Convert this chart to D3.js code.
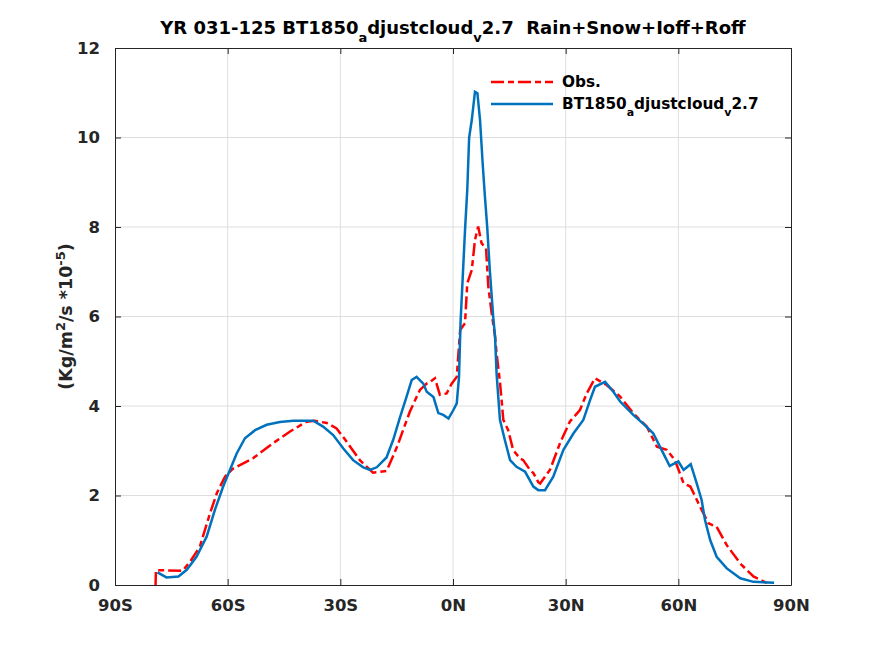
<!DOCTYPE html>
<html>
<head>
<meta charset="utf-8">
<script src="https://cdn.jsdelivr.net/npm/d3@7"></script>
<style>
  body { margin: 0; background: #fff; }
  text { font-family: "DejaVu Sans", sans-serif; font-weight: bold; fill: #262626; }
</style>
</head>
<body>
<div class="chart"></div>
<script>
// zonal mean Rain+Snow+Ioff+Roff
const obsLat = [-79.2,-79.1,-78,-72,-70,-67.4,-64.7,-62.9,-60.7,-58.6,-53.3,-47.9,-43.4,-39,-36.8,-33.6,-31,-28.3,-24.8,-21.3,-19.3,-17.7,-16,-14.7,-13.3,-11.5,-9.7,-8.8,-7,-6.1,-4.8,-3.5,-1.7,-0.35,1.0,1.9,3.2,3.8,5.0,5.85,6.7,7.6,8.8,9.4,10.3,11.2,11.6,12.5,13.4,14.7,16.0,17.8,18.7,20.5,21.4,22.7,23.2,25.8,28.5,31.1,33.8,35.6,37.8,40.9,44.5,48.0,51.6,54.3,56.9,59.1,61.4,63.2,65.8,68.0,70.2,72.9,76.5,80.0,83.5,84.5]
const obsVal = [0,0.33,0.33,0.32,0.52,0.86,1.6,2.05,2.42,2.6,2.83,3.17,3.43,3.65,3.67,3.62,3.5,3.2,2.79,2.51,2.53,2.55,2.87,3.13,3.46,3.87,4.2,4.36,4.5,4.54,4.62,4.25,4.28,4.5,4.65,5.7,5.85,6.74,7.04,7.71,8.01,7.64,7.52,6.67,6.07,5.55,5.18,4.54,3.69,3.46,3.02,2.83,2.79,2.57,2.5,2.3,2.27,2.57,3.17,3.65,3.91,4.28,4.62,4.47,4.21,3.84,3.54,3.09,3.02,2.79,2.27,2.2,1.75,1.38,1.3,0.89,0.48,0.19,0.05,0.02]

const modLat = [-78.7,-76.3,-73.1,-70.9,-68.3,-65.6,-63.4,-61.2,-59.4,-57.6,-55.4,-52.7,-49.6,-46.1,-42.5,-37.2,-34.6,-31.9,-29.2,-26.6,-23.9,-22.1,-20.3,-17.7,-15.9,-14.1,-12.4,-11.0,-9.7,-7.9,-7.0,-5.2,-3.9,-2.6,-1.2,0.1,1.0,1.6,2.0,2.6,3.2,3.8,4.3,5.0,5.85,6.5,7.2,7.9,8.5,9.1,9.8,10.7,11.2,11.6,12.5,13.8,15.2,16.9,19.2,21.4,22.7,24.5,26.7,29.4,32.1,34.7,36.5,37.8,40.5,42.7,44.5,48.0,50.6,53.3,56.0,57.7,60.0,61.4,63.3,64.9,66.2,67.1,68.5,70.2,72.9,76.5,80.0,85.5]
const modVal = [0.28,0.17,0.19,0.34,0.63,1.08,1.68,2.2,2.57,2.94,3.28,3.46,3.58,3.64,3.67,3.67,3.54,3.35,3.05,2.79,2.63,2.57,2.63,2.85,3.25,3.75,4.2,4.58,4.65,4.5,4.32,4.2,3.84,3.8,3.72,3.91,4.06,4.65,5.85,6.89,7.93,8.83,10.0,10.39,11.02,10.99,10.39,9.42,8.68,8.01,7.04,6.0,5.55,4.73,3.69,3.24,2.79,2.64,2.53,2.2,2.12,2.12,2.42,3.02,3.39,3.69,4.13,4.43,4.54,4.32,4.1,3.8,3.61,3.39,2.94,2.66,2.76,2.57,2.7,2.27,1.9,1.45,1.0,0.63,0.37,0.15,0.07,0.05]

const xTicks = [-90, -60, -30, 0, 30, 60, 90]
const xTickLabels = ["90S", "60S", "30S", "0N", "30N", "60N", "90N"]
const yTicks = [0, 2, 4, 6, 8, 10, 12]

const width = 875, height = 656
const margin = {top: 48, right: 84, bottom: 71, left: 115}
const axisColor = "#262626"

const svg = d3.select(".chart").append("svg")
  .attr("width", width)
  .attr("height", height)

const xScale = d3.scaleLinear().domain([-90, 90]).range([margin.left, width - margin.right])
const yScale = d3.scaleLinear().domain([0, 12]).range([height - margin.bottom, margin.top])

// grid
svg.append("g").selectAll("line")
  .data(xTicks.slice(1, -1))
  .join("line")
    .attr("x1", d => xScale(d)).attr("x2", d => xScale(d))
    .attr("y1", yScale(0)).attr("y2", yScale(12))
    .attr("stroke", "#dedede").attr("stroke-width", 1)
svg.append("g").selectAll("line")
  .data(yTicks.slice(1, -1))
  .join("line")
    .attr("x1", xScale(-90)).attr("x2", xScale(90))
    .attr("y1", d => yScale(d)).attr("y2", d => yScale(d))
    .attr("stroke", "#dedede").attr("stroke-width", 1)

// curves
const line = d3.line()
  .x(d => xScale(d[0]))
  .y(d => yScale(d[1]))

const obs = obsLat.map((d, i) => [d, obsVal[i]])
const mod = modLat.map((d, i) => [d, modVal[i]])

svg.append("path")
  .datum(obs)
  .attr("d", line)
  .attr("fill", "none")
  .attr("stroke", "#ff0000")
  .attr("stroke-width", 2.5)
  .attr("stroke-dasharray", "13,4,6,4")

svg.append("path")
  .datum(mod)
  .attr("d", line)
  .attr("fill", "none")
  .attr("stroke", "#0072bd")
  .attr("stroke-width", 2.5)

// axes (ticks inward, box all round)
const tickLen = 6
const fmtX = (d, i) => xTickLabels[i]

svg.append("g")
  .attr("transform", `translate(0,${yScale(0)})`)
  .call(d3.axisBottom(xScale).tickValues(xTicks).tickFormat(fmtX).tickSizeInner(-tickLen).tickSizeOuter(0).tickPadding(14))
  .call(g => g.selectAll("text").attr("font-size", 16.5).attr("font-family", "DejaVu Sans").attr("font-weight", "bold").attr("fill", axisColor))

svg.append("g")
  .attr("transform", `translate(0,${yScale(12)})`)
  .call(d3.axisTop(xScale).tickValues(xTicks).tickFormat("").tickSizeInner(-tickLen).tickSizeOuter(0))

svg.append("g")
  .attr("transform", `translate(${xScale(-90)},0)`)
  .call(d3.axisLeft(yScale).tickValues(yTicks).tickFormat(d3.format("d")).tickSizeInner(-tickLen).tickSizeOuter(0).tickPadding(15))
  .call(g => g.selectAll("text").attr("font-size", 16.5).attr("font-family", "DejaVu Sans").attr("font-weight", "bold").attr("fill", axisColor))

svg.append("g")
  .attr("transform", `translate(${xScale(90)},0)`)
  .call(d3.axisRight(yScale).tickValues(yTicks).tickFormat("").tickSizeInner(-tickLen).tickSizeOuter(0))

svg.selectAll(".domain, .tick line").attr("stroke", axisColor).attr("stroke-width", 1)

// y label
const yLab = svg.append("text")
  .attr("transform", `translate(72,${(yScale(0) + yScale(12)) / 2}) rotate(-90)`)
  .attr("text-anchor", "middle")
  .attr("font-size", 17.5)
yLab.append("tspan").text("(Kg/m")
yLab.append("tspan").attr("dy", -7).attr("font-size", 13).text("2")
yLab.append("tspan").attr("dy", 7).text("/s *10")
yLab.append("tspan").attr("dy", -7).attr("font-size", 13).text("-5")
yLab.append("tspan").attr("dy", 7).text(")")

// title
const title = svg.append("text")
  .attr("x", (xScale(-90) + xScale(90)) / 2)
  .attr("y", 34)
  .attr("text-anchor", "middle")
  .attr("font-size", 18)
  .style("fill", "#000")
title.append("tspan").text("YR 031-125 BT1850")
title.append("tspan").attr("dy", 8).attr("font-size", 13).text("a")
title.append("tspan").attr("dy", -8).text("djustcloud")
title.append("tspan").attr("dy", 8).attr("font-size", 13).text("v")
title.append("tspan").attr("dy", -8).text("2.7\u00a0\u00a0Rain+Snow+Ioff+Roff")

// legend
const legend = svg.append("g")
const lx0 = 491, lx1 = 553, ltx = 562
legend.append("line")
  .attr("x1", lx0).attr("x2", lx1).attr("y1", 82).attr("y2", 82)
  .attr("stroke", "#ff0000").attr("stroke-width", 2.5).attr("stroke-dasharray", "13,4,6,4")
legend.append("text").attr("x", ltx).attr("y", 87).attr("font-size", 15.3).style("fill", "#000").text("Obs.")
legend.append("line")
  .attr("x1", lx0).attr("x2", lx1).attr("y1", 104).attr("y2", 104)
  .attr("stroke", "#0072bd").attr("stroke-width", 2.5)
const lt = legend.append("text").attr("x", ltx).attr("y", 109).attr("font-size", 15.3).style("fill", "#000")
lt.append("tspan").text("BT1850")
lt.append("tspan").attr("dy", 7).attr("font-size", 11).text("a")
lt.append("tspan").attr("dy", -7).text("djustcloud")
lt.append("tspan").attr("dy", 7).attr("font-size", 11).text("v")
lt.append("tspan").attr("dy", -7).text("2.7")
</script>
</body>
</html>
